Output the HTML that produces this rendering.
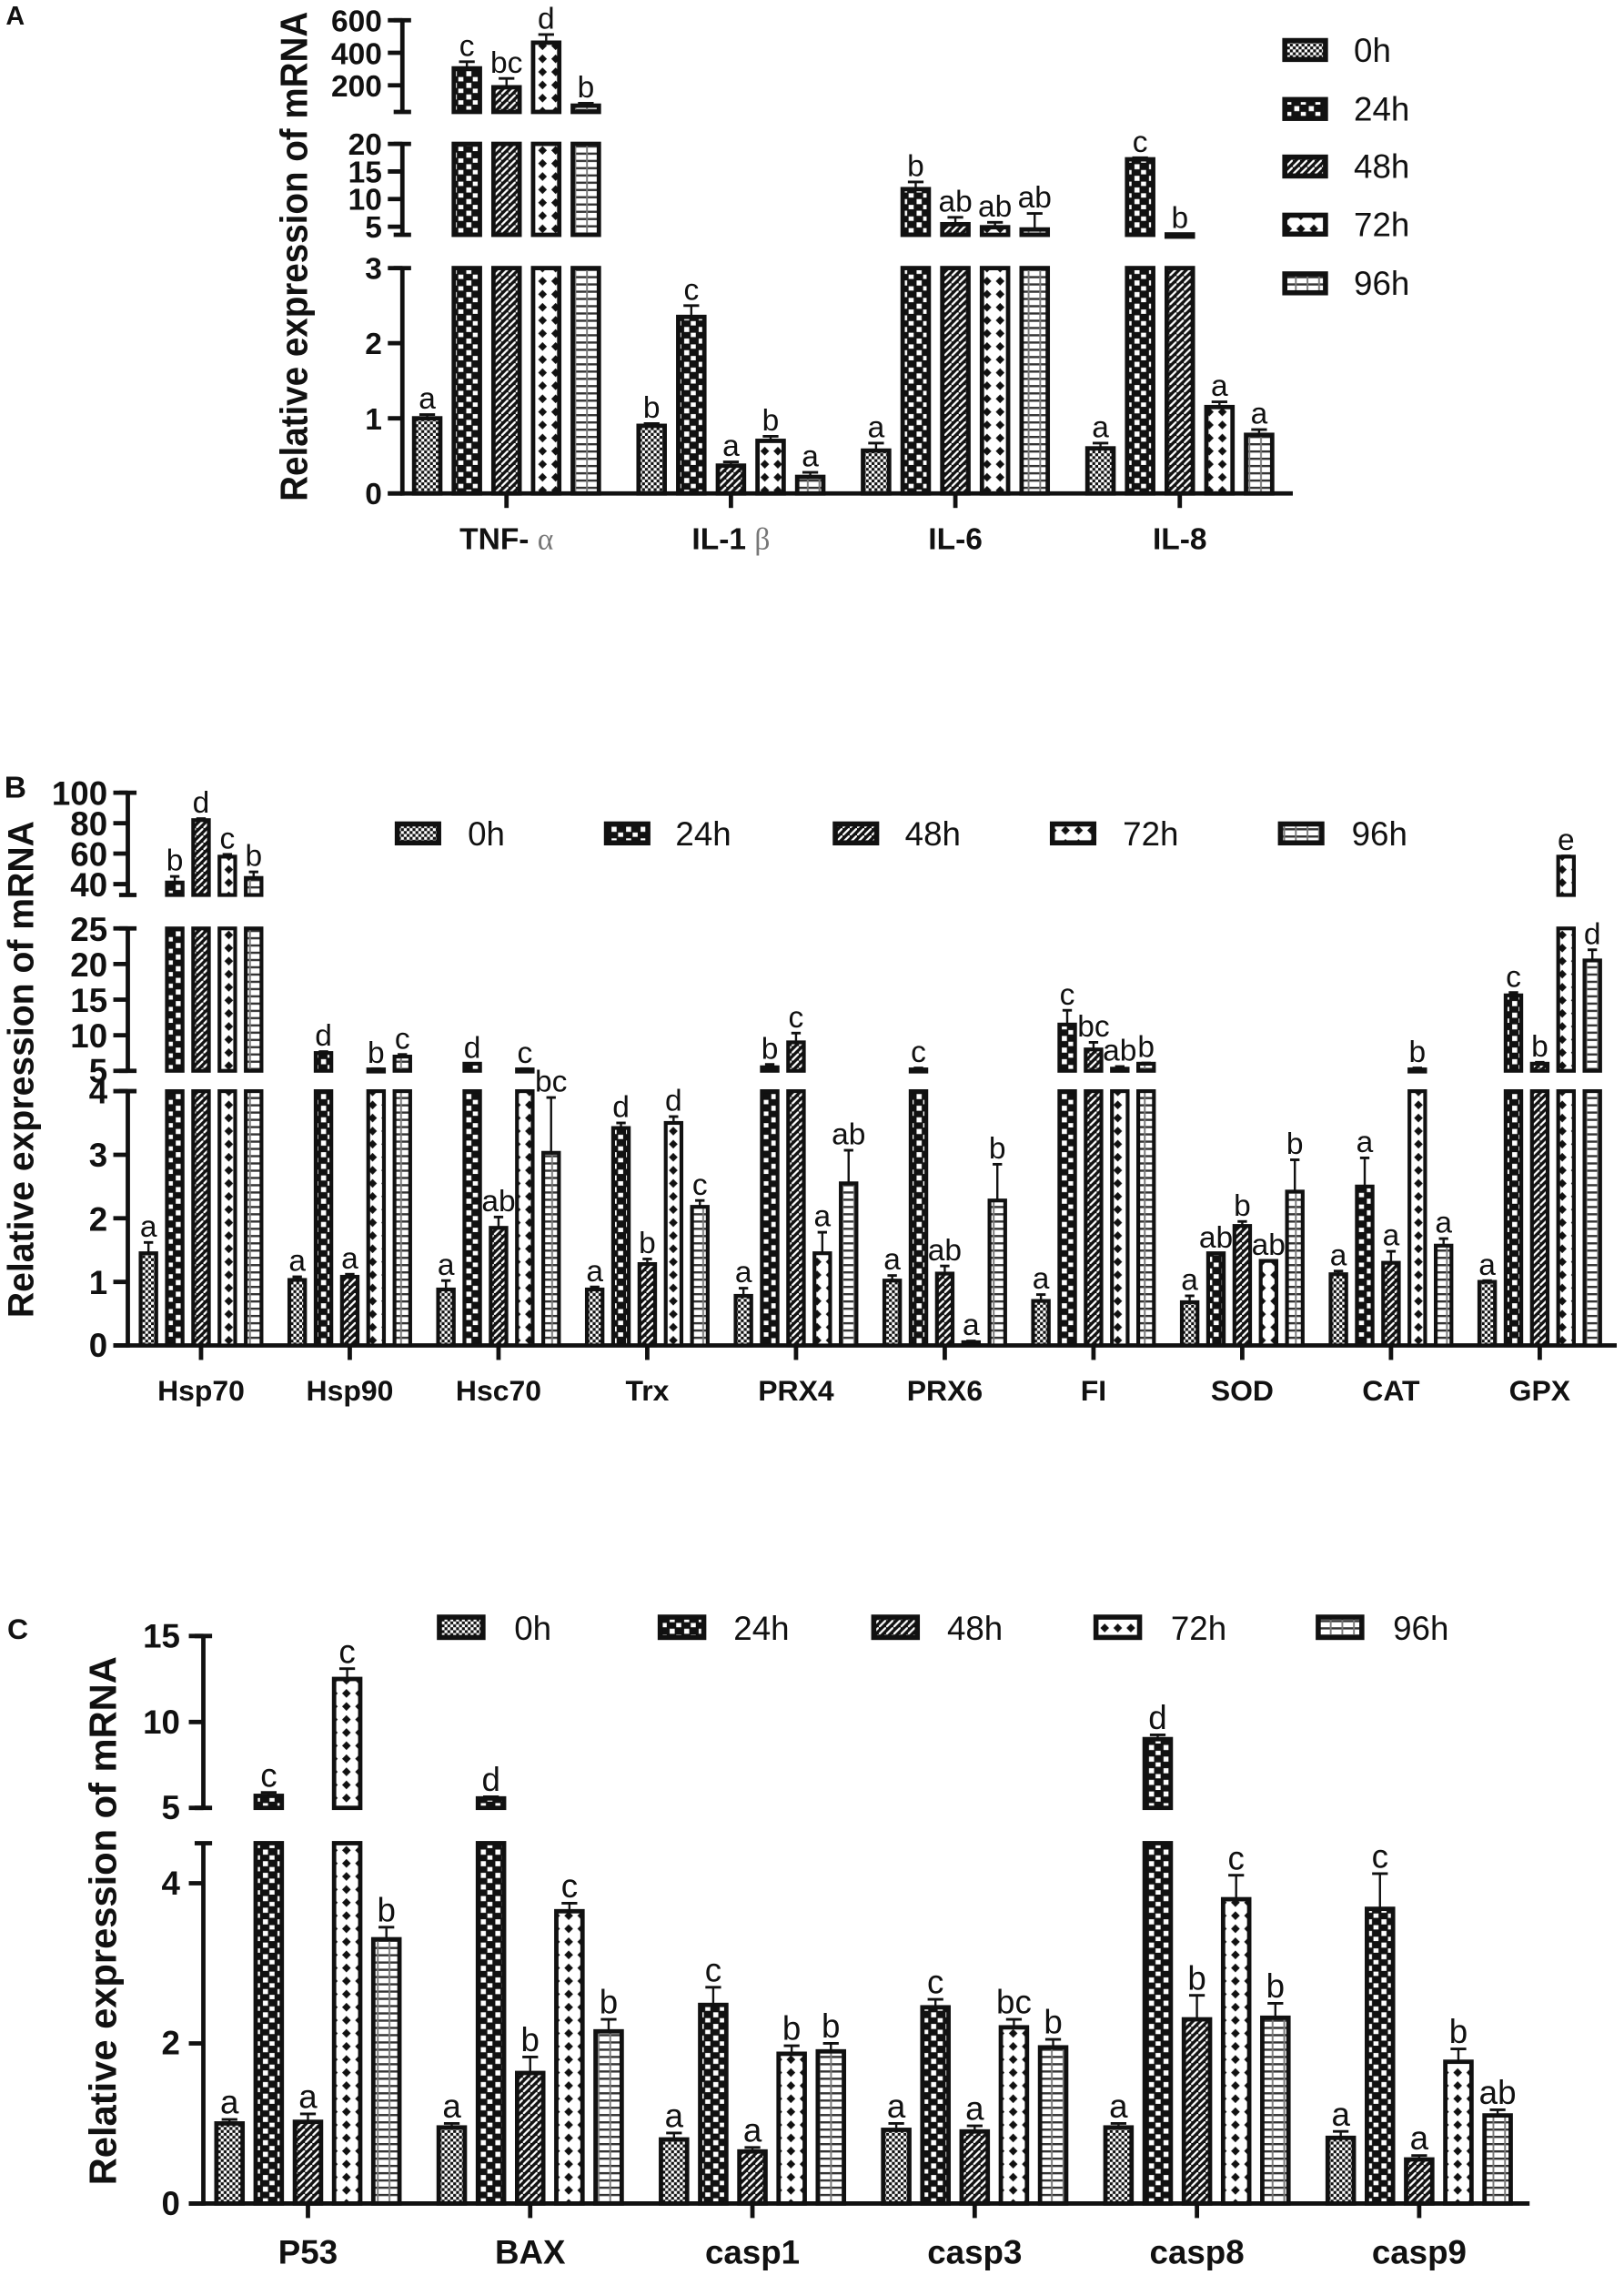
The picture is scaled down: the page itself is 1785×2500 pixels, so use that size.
<!DOCTYPE html>
<html><head><meta charset="utf-8"><style>
html,body{margin:0;padding:0;background:#fff}
svg{display:block}
text{font-family:"Liberation Sans",Arial,sans-serif;fill:#111}
.tk{font-weight:bold;text-anchor:end}
.cat{font-weight:bold;text-anchor:middle}
.lg{font-size:23px}
</style></head><body>
<svg id="s" xmlns="http://www.w3.org/2000/svg" width="1785" height="2500" viewBox="0 0 1118 1565.8">
<defs>
<pattern id="p0" patternUnits="userSpaceOnUse" width="4" height="4"><rect width="4" height="4" fill="#111"/><rect width="2" height="2" fill="#fff"/><rect x="2" y="2" width="2" height="2" fill="#fff"/></pattern>
<pattern id="p1" patternUnits="userSpaceOnUse" width="10" height="8"><rect width="10" height="8" fill="#111"/><rect x="1" y="1" width="3.5" height="3.5" fill="#fff"/><rect x="5.5" y="5" width="3.5" height="3" fill="#fff"/></pattern>
<pattern id="p2" patternUnits="userSpaceOnUse" width="5" height="5"><rect width="5" height="5" fill="#111"/><path d="M-1,6 L6,-1" stroke="#fff" stroke-width="1.4"/></pattern>
<pattern id="p3" patternUnits="userSpaceOnUse" width="9" height="9"><rect width="9" height="9" fill="#fff"/><polygon points="4.5,1.5 7.5,4.5 4.5,7.5 1.5,4.5" fill="#111"/></pattern>
<pattern id="p4" patternUnits="userSpaceOnUse" width="8" height="5"><rect width="8" height="5" fill="#fff"/><rect width="8" height="1.5" fill="#333"/><rect x="3.5" width="1.2" height="5" fill="#777"/></pattern>
</defs>
<g id="g"></g>

<text x="4" y="17" font-weight="bold" font-size="18">A</text>
<text x="3" y="549" font-weight="bold" font-size="21">B</text>
<text x="5" y="1128" font-weight="bold" font-size="20">C</text>

<text transform="translate(211.5,176.5) rotate(-90)" text-anchor="middle" font-weight="bold" font-size="26" textLength="337" lengthAdjust="spacingAndGlyphs">Relative expression of mRNA</text>
<text transform="translate(23,736) rotate(-90)" text-anchor="middle" font-weight="bold" font-size="25" textLength="342" lengthAdjust="spacingAndGlyphs">Relative expression of mRNA</text>
<text transform="translate(80,1322) rotate(-90)" text-anchor="middle" font-weight="bold" font-size="26" textLength="364" lengthAdjust="spacingAndGlyphs">Relative expression of mRNA</text>

<g class="tk" font-size="21">
<text x="263" y="21.5">600</text><text x="263" y="44">400</text><text x="263" y="66.5">200</text>
<text x="263" y="106.5">20</text><text x="263" y="125.5">15</text><text x="263" y="144.5">10</text><text x="263" y="163.5">5</text>
<text x="263" y="192">3</text><text x="263" y="243.5">2</text><text x="263" y="295.5">1</text><text x="263" y="347">0</text>
</g>
<g class="tk" font-size="23">
<text x="74" y="554">100</text><text x="74" y="575">80</text><text x="74" y="596">60</text><text x="74" y="617">40</text>
<text x="74" y="647.5">25</text><text x="74" y="672">20</text><text x="74" y="696.5">15</text><text x="74" y="721">10</text><text x="74" y="745">5</text>
<text x="74" y="759.5">4</text><text x="74" y="803">3</text><text x="74" y="847">2</text><text x="74" y="890.5">1</text><text x="74" y="934">0</text>
</g>
<g class="tk" font-size="23">
<text x="124" y="1134">15</text><text x="124" y="1193">10</text><text x="124" y="1252">5</text>
<text x="124" y="1304">4</text><text x="124" y="1414">2</text><text x="124" y="1524.6">0</text>
</g>

<g class="cat" font-size="21">
<text x="348.7" y="378">TNF- <tspan font-family="Liberation Serif" font-weight="normal" fill="#777">α</tspan></text>
<text x="503.2" y="378">IL-1 <tspan font-family="Liberation Serif" font-weight="normal" fill="#777">β</tspan></text>
<text x="657.7" y="378">IL-6</text>
<text x="812.2" y="378">IL-8</text>
</g>
<g class="cat" font-size="20">
<text x="138.4" y="964">Hsp70</text><text x="240.8" y="964">Hsp90</text><text x="343.2" y="964">Hsc70</text><text x="445.6" y="964">Trx</text><text x="548" y="964">PRX4</text>
<text x="650.4" y="964">PRX6</text><text x="752.8" y="964">FI</text><text x="855.2" y="964">SOD</text><text x="957.6" y="964">CAT</text><text x="1060" y="964">GPX</text>
</g>
<g class="cat" font-size="23">
<text x="212" y="1558">P53</text><text x="365" y="1558">BAX</text><text x="518" y="1558">casp1</text><text x="671" y="1558">casp3</text><text x="824" y="1558">casp8</text><text x="977" y="1558">casp9</text>
</g>

<g class="lg">
<text x="932" y="42.5">0h</text><text x="932" y="83">24h</text><text x="932" y="122.5">48h</text><text x="932" y="162.5">72h</text><text x="932" y="203">96h</text>
</g>
<g font-size="23">
<text x="322" y="582">0h</text><text x="465" y="582">24h</text><text x="623" y="582">48h</text><text x="773" y="582">72h</text><text x="930.5" y="582">96h</text>
</g>
<g font-size="23">
<text x="354" y="1128.5">0h</text><text x="505" y="1128.5">24h</text><text x="652" y="1128.5">48h</text><text x="806" y="1128.5">72h</text><text x="959" y="1128.5">96h</text>
</g>

<g id="LA" text-anchor="middle" font-size="21">
<text>a</text><text>c</text><text>bc</text><text>d</text><text>b</text>
<text>b</text><text>c</text><text>a</text><text>b</text><text>a</text>
<text>a</text><text>b</text><text>ab</text><text>ab</text><text>ab</text>
<text>a</text><text>c</text><text>b</text><text>a</text><text>a</text>
</g>
<g id="LB" text-anchor="middle" font-size="21">
<text>a</text><text>b</text><text>d</text><text>c</text><text>b</text>
<text>a</text><text>d</text><text>a</text><text>b</text><text>c</text>
<text>a</text><text>d</text><text>ab</text><text>c</text><text>bc</text>
<text>a</text><text>d</text><text>b</text><text>d</text><text>c</text>
<text>a</text><text>b</text><text>c</text><text>a</text><text>ab</text>
<text>a</text><text>c</text><text>ab</text><text>a</text><text>b</text>
<text>a</text><text>c</text><text>bc</text><text>ab</text><text>b</text>
<text>a</text><text>ab</text><text>b</text><text>ab</text><text>b</text>
<text>a</text><text>a</text><text>a</text><text>b</text><text>a</text>
<text>a</text><text>c</text><text>b</text><text>e</text><text>d</text>
</g>
<g id="LC" text-anchor="middle" font-size="23">
<text>a</text><text>c</text><text>a</text><text>c</text><text>b</text>
<text>a</text><text>d</text><text>b</text><text>c</text><text>b</text>
<text>a</text><text>c</text><text>a</text><text>b</text><text>b</text>
<text>a</text><text>c</text><text>a</text><text>bc</text><text>b</text>
<text>a</text><text>d</text><text>b</text><text>c</text><text>b</text>
<text>a</text><text>c</text><text>a</text><text>b</text><text>ab</text>
</g>
</svg>
<script>
(function(){
var NS="http://www.w3.org/2000/svg",G=document.getElementById("g");
function el(t,a){var e=document.createElementNS(NS,t);for(var k in a)e.setAttribute(k,a[k]);G.appendChild(e);return e;}
function line(x1,y1,x2,y2,w){el("line",{x1:x1,y1:y1,x2:x2,y2:y2,stroke:"#111","stroke-width":w});}
var P=[
{ax:277,xend:890,cx0:348.7,pitch:154.5,off:27.3,w:18,sw:3,lid:"LA",
 segs:[[0,3,339.6,184.5],[3.53,20,161.6,99],[36.6,600,77,13.9]],
 ticks:[13.9,36.3,58.7,99,118,137,156,184.5,236.2,287.9,339.6],
 data:[[[1,1.05],[304,345],[188,242],[462,512],[75,90]],
       [[0.9,0.93],[2.35,2.5],[0.37,0.42],[0.7,0.76],[0.22,0.28]],
       [[0.57,0.67],[11.8,13.1],[5.45,6.7],[4.9,5.8],[4.5,7.4]],
       [[0.6,0.67],[17.2,17.5],[3.6,3.7],[1.15,1.22],[0.78,0.85]]]},
{ax:88,xend:1113,cx0:138.4,pitch:102.4,off:18.1,w:10.8,sw:2.6,lid:"LB",
 segs:[[0,4,926,751],[5,25,737,639],[32.8,100,616,545.6]],
 ticks:[545.6,566.6,587.5,608.5,639,663.5,688,712.5,737,751,794.8,838.5,882.3,926],
 data:[[[1.45,1.62],[41,45],[82,83],[58,59.5],[44,48]],
       [[1.03,1.08],[7.5,7.7],[1.08,1.12],[5.2,5.3],[7,7.3]],
       [[0.88,1.02],[6,6],[1.85,2.02],[5.2,5.3],[3.03,3.9]],
       [[0.88,0.92],[3.42,3.5],[1.28,1.36],[3.5,3.6],[2.18,2.28]],
       [[0.78,0.9],[5.5,5.9],[9,10.3],[1.45,1.78],[2.55,3.07]],
       [[1.02,1.1],[5.2,5.4],[1.13,1.25],[0.05,0.07],[2.28,2.85]],
       [[0.7,0.8],[11.5,13.5],[8,9],[5.3,5.6],[6,6.1]],
       [[0.68,0.78],[1.45,1.45],[1.88,1.95],[1.33,1.33],[2.42,2.92]],
       [[1.12,1.17],[2.5,2.95],[1.3,1.48],[5.2,5.4],[1.57,1.68]],
       [[1,1.02],[15.6,16],[6,6.2],[58,58.5],[20.5,22]]]},
{ax:140,xend:1053,cx0:212,pitch:153,off:27,w:18,sw:3,lid:"LC",
 segs:[[0,4.5,1516.6,1268.6],[5,15,1244.3,1126]],
 ticks:[1126,1185.2,1244.3,1296.2,1406.4,1516.6],
 data:[[[1,1.05],[5.7,5.9],[1.02,1.12],[12.5,13.1],[3.3,3.45]],
       [[0.95,1],[5.55,5.65],[1.63,1.83],[3.65,3.75],[2.15,2.3]],
       [[0.8,0.88],[2.48,2.7],[0.65,0.7],[1.87,1.97],[1.9,2]],
       [[0.92,1],[2.45,2.55],[0.9,0.97],[2.2,2.3],[1.95,2.05]],
       [[0.95,1],[9,9.25],[2.3,2.6],[3.8,4.1],[2.32,2.5]],
       [[0.82,0.9],[3.68,4.12],[0.55,0.6],[1.77,1.93],[1.1,1.17]]]}
];
P.forEach(function(p){
  function Y(s,v){return s[2]+(v-s[0])*(s[3]-s[2])/(s[1]-s[0]);}
  p.segs.forEach(function(s){
    line(p.ax,s[2]+(s[0]===0?1.5:0),p.ax,s[3],3);
    if(s[0]!==0) line(p.ax-6,s[2],p.ax+6,s[2],3);
    line(p.ax-6,s[3],p.ax+6,s[3],3);
  });
  p.ticks.forEach(function(t){line(p.ax-10,t,p.ax,t,3);});
  var y0=p.segs[0][2];
  line(p.ax-10,y0,p.xend,y0,3);
  var L=document.getElementById(p.lid).children,li=0;
  p.data.forEach(function(gr,i){
    var cx=p.cx0+p.pitch*i;
    line(cx,y0,cx,y0+10,3);
    gr.forEach(function(b,j){
      var x=cx+(j-2)*p.off, v=b[0], e=b[1], seg=null;
      p.segs.forEach(function(s){
        if(v>s[0]){var t=Math.min(v,s[1]);var ya=Y(s,s[0]),yb=Y(s,t);
          el("rect",{x:x-p.w/2,y:yb,width:p.w,height:Math.max(ya-yb,1.5),fill:"url(#p"+j+")",stroke:"#111","stroke-width":p.sw});
          seg=s;}
      });
      var yv=Y(seg,v),ye=Y(seg,Math.min(e,seg[1]));
      if(ye<yv-0.5){line(x,yv,x,ye,1.5);}
      line(x-p.w*0.3,ye,x+p.w*0.3,ye,1.8);
      var T=L[li++]; if(T){T.setAttribute("x",x);T.setAttribute("y",ye-4);}
    });
  });
});
function leg(x,y,w,h,j){el("rect",{x:x,y:y,width:w,height:h,fill:"url(#p"+j+")",stroke:"#111","stroke-width":3.5});}
[34.4,75,114.6,154.6,195].forEach(function(c,j){leg(884.5,c-6.5,28,13,j);});
[272,416,573.5,723,880].forEach(function(x,j){leg(x+1.5,573.6-6.5,28.5,13,j);});
[301,453,600,753,906].forEach(function(x,j){leg(x+1.5,1120-7,30,14,j);});
})();
</script>
</body></html>
